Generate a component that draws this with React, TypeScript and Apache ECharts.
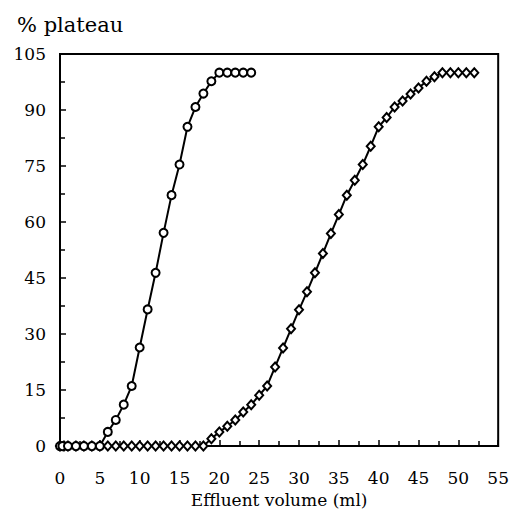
import React, { useEffect, useRef } from "react";
import * as echarts from "echarts";

const circleX = [0, 0.3, 1, 2, 3, 4, 5, 6, 7, 8, 9, 10, 11, 12, 13, 14, 15, 16, 17, 18, 19, 20, 21, 22, 23, 24];
const circleY = [0, 0, 0, 0, 0, 0, 0, 3.8, 7, 11.1, 16.1, 26.4, 36.6, 46.4, 57.1, 67.2, 75.4, 85.5, 90.8, 94.4, 97.7, 100, 100, 100, 100, 100];

const diamondX = [0, 0.5, 1, 2, 3, 4, 5, 6, 7, 8, 9, 10, 11, 12, 13, 14, 15, 16, 17, 18, 19, 20, 21, 22, 23, 24, 25, 26, 27, 28, 29, 30, 31, 32, 33, 34, 35, 36, 37, 38, 39, 40, 41, 42, 43, 44, 45, 46, 47, 48, 49, 50, 51, 52];
const diamondY = [0, 0, 0, 0, 0, 0, 0, 0, 0, 0, 0, 0, 0, 0, 0, 0, 0, 0, 0, 0, 2.0, 3.8, 5.3, 7.0, 9.1, 11.1, 13.6, 16.1, 21.2, 26.3, 31.4, 36.5, 41.3, 46.4, 51.6, 56.9, 62.0, 67.2, 71.2, 75.4, 80.3, 85.5, 88.0, 90.8, 92.4, 94.3, 95.9, 97.7, 98.9, 100, 100, 100, 100, 100];

const xTicks = { min: 0, max: 55, interval: 5 };
const yTicks = { min: 0, max: 105, interval: 15 };

const FONT = "DejaVu Serif";

export default function App() {
  const ref = useRef<HTMLDivElement>(null);
  useEffect(() => {
    if (!ref.current) return;
    const chart = echarts.init(ref.current, null, { renderer: "svg" });
    const axisCommon = {
      axisLine: { show: true, onZero: false, lineStyle: { color: "#000", width: 2 } },
      axisTick: { show: true, inside: true, length: 6, lineStyle: { color: "#000", width: 1.5 } },
      minorTick: { show: true, splitNumber: 2, length: 5, lineStyle: { color: "#000", width: 1.5 } },
      splitLine: { show: false },
      axisLabel: { color: "#000", fontFamily: FONT, fontSize: 17 },
    };
    chart.setOption({
      animation: false,
      backgroundColor: "#fff",
      textStyle: { fontFamily: FONT },
      title: {
        text: "% plateau",
        left: 12,
        top: 9,
        textStyle: { fontFamily: FONT, fontSize: 21, fontWeight: "normal", color: "#000" },
      },
      grid: {
        left: 60,
        right: 12,
        top: 54,
        bottom: 57,
        show: true,
        borderColor: "#000",
        borderWidth: 2,
        backgroundColor: "transparent",
      },
      xAxis: {
        type: "value",
        ...xTicks,
        ...axisCommon,
        axisLabel: { ...axisCommon.axisLabel, margin: 23 },
        name: "Effluent volume (ml)",
        nameLocation: "middle",
        nameGap: 38,
        nameTextStyle: { fontFamily: FONT, fontSize: 17, color: "#000" },
      },
      yAxis: {
        type: "value",
        ...yTicks,
        ...axisCommon,
        axisLabel: { ...axisCommon.axisLabel, margin: 14 },
      },
      series: [
        {
          type: "line",
          data: diamondX.map((x, i) => [x, diamondY[i]]),
          symbol: "diamond",
          symbolSize: [8, 9],
          showAllSymbol: true,
          lineStyle: { color: "#000", width: 2 },
          itemStyle: { color: "#fff", borderColor: "#000", borderWidth: 2 },
          z: 2,
        },
        {
          type: "line",
          data: circleX.map((x, i) => [x, circleY[i]]),
          symbol: "circle",
          symbolSize: 8,
          showAllSymbol: true,
          lineStyle: { color: "#000", width: 2 },
          itemStyle: { color: "#fff", borderColor: "#000", borderWidth: 2 },
          z: 3,
        },
      ],
    });
    return () => chart.dispose();
  }, []);
  return (
    <div
      ref={ref}
      style={{ position: "fixed", left: 0, top: 0, width: 512, height: 513, background: "#fff" }}
    />
  );
}
